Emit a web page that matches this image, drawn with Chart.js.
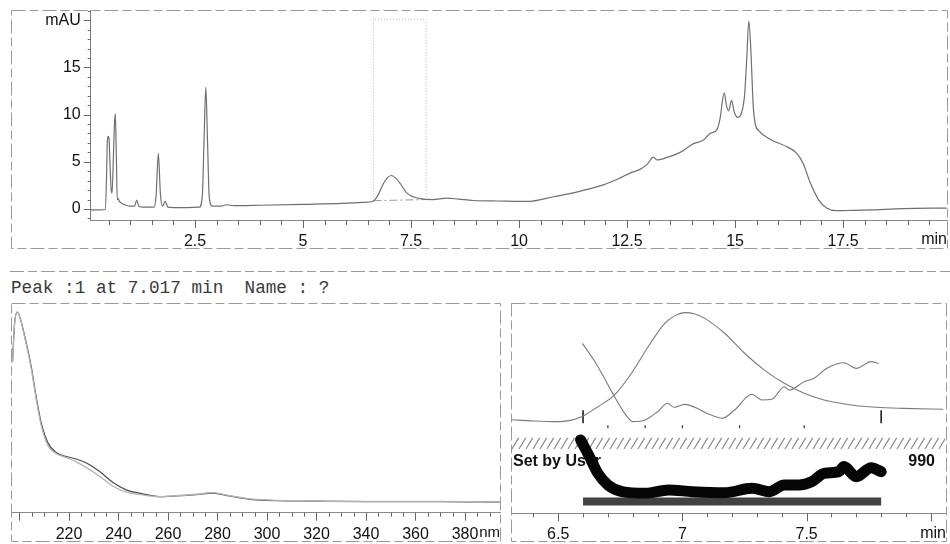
<!DOCTYPE html>
<html lang="en">
<head>
<meta charset="UTF-8">
<title>Peak 1 at 7.017 min</title>
<script src="https://cdn.jsdelivr.net/npm/chart.js"></script>
<style>
    body {
        margin: 0;
        background: #fff;
        width: 950px;
        height: 544px;
        position: relative;
        overflow: hidden;
    }
    .panel { position: absolute; }
    #peakTitle {
        position: absolute;
        left: 11px;
        top: 278px;
        font-family: 'Liberation Mono', 'DejaVu Sans Mono', monospace;
        font-size: 17.7px;
        color: #3a3a3a;
        white-space: pre;
    }
    #frames { position: absolute; left: 0; top: 0; pointer-events: none; }
</style>
</head>
<body>
<div class="panel" style="left:11px; top:10px; width:937px; height:239px;"><canvas id="chromChart"></canvas></div>
<div class="panel" style="left:11px; top:303px; width:490px; height:239px;"><canvas id="specChart"></canvas></div>
<div class="panel" style="left:511px; top:303px; width:436px; height:239px;"><canvas id="purityChart"></canvas></div>
<div id="peakTitle">Peak :1 at 7.017 min  Name : ?</div>
<svg id="frames" width="950" height="544">
    <g fill="none" stroke="#9a9a9a" stroke-width="1" stroke-dasharray="14 4 9 4">
        <rect x="11.5" y="10.5" width="936" height="238"/>
        <line x1="10" y1="271.5" x2="950" y2="271.5"/>
        <rect x="11.5" y="303.5" width="489" height="238"/>
        <rect x="511.5" y="303.5" width="435" height="238"/>
    </g>
</svg>

<script>
    // ---- chromatogram (top) ----
    const chromTime = [0.09, 0.3, 0.42, 0.45, 0.47, 0.49, 0.51, 0.53, 0.56, 0.58, 0.61, 0.635, 0.655, 0.675, 0.70, 0.72, 0.75, 0.8, 0.9, 1.0,
        1.1, 1.15, 1.2, 1.3, 1.45, 1.55, 1.6, 1.65, 1.7, 1.75, 1.81, 1.87, 2.0, 2.3, 2.6, 2.67, 2.71, 2.75, 2.79, 2.83,
        2.9, 3.1, 3.23, 3.4, 4.0, 5.0, 5.9, 6.4, 6.63, 6.75, 6.85, 6.95, 7.05, 7.15, 7.25, 7.4, 7.55, 7.71, 8.0, 8.33,
        8.6, 8.94, 9.5, 10.2, 10.8, 11.2, 11.6, 11.95, 12.3, 12.57, 12.8, 12.96, 13.11, 13.19, 13.45, 13.73, 14.03, 14.27, 14.42, 14.58,
        14.65, 14.75, 14.8, 14.85, 14.92, 14.98, 15.06, 15.15, 15.22, 15.27, 15.32, 15.37, 15.42, 15.47, 15.55, 15.81, 16.2, 16.43, 16.58, 16.74,
        16.93, 17.12, 17.35, 17.7, 18.13, 18.9, 19.9];
    const chromMAU = [-0.1, -0.1, -0.05, 3.0, 7.2, 7.7, 7.4, 5.0, 2.0, 1.7, 5.5, 9.0, 10.1, 6.5, 1.0, 1.1, 0.8, 0.6, 0.4, 0.3,
        0.3, 0.95, 0.3, 0.2, 0.2, 0.2, 1.5, 5.9, 1.5, 0.3, 0.8, 0.2, 0.15, 0.15, 0.2, 1.5, 7.5, 12.9, 7.0, 1.2,
        0.3, 0.3, 0.45, 0.35, 0.4, 0.5, 0.6, 0.7, 0.85, 1.6, 2.6, 3.3, 3.55, 3.25, 2.7, 1.7, 1.3, 1.1, 1.0, 1.15,
        1.05, 0.9, 0.85, 0.8, 1.3, 1.65, 2.1, 2.55, 3.2, 3.8, 4.2, 4.7, 5.5, 5.2, 5.5, 6.0, 6.9, 7.3, 8.0, 8.4,
        9.5, 12.3, 11.0, 10.4, 11.5, 10.3, 9.7, 10.2, 12.0, 15.8, 19.9, 16.5, 11.0, 9.0, 8.3, 7.4, 6.6, 5.9, 4.8, 2.8,
        1.0, 0.1, -0.18, -0.15, -0.1, 0.05, 0.1];
    const chromTicks = [2.5, 5, 7.5, 10, 12.5, 15, 17.5];
    const mauTicks = [0, 5, 10, 15, 20];
    // spectrum window around peak 1 (dotted box) and its baseline
    const windowTime = [6.63, 6.63, 7.85, 7.85];
    const windowMAU = [0.88, 20.1, 20.1, 1.0];
    const baseTime = [6.63, 7.85];
    const baseMAU = [0.88, 1.0];

    // ---- UV spectrum (bottom left) ----
    const specNm = [197.2, 198.0, 199.1, 200.2, 202.4, 204.7, 206.7, 208.8, 211.5, 214.8, 218.9, 222.9, 227, 232.4,
        237.8, 243.1, 248.5, 256.6, 263.3, 271.4, 278.1, 284.8, 292.9, 313.3, 340, 370, 394];
    const specApex = [72, 90, 95.7, 93.1, 82.7, 70, 55.6, 42.8, 33.3, 28.7, 26.8, 25.6, 23.7, 19.6,
        14.4, 10.9, 9.3, 7.7, 8.0, 8.6, 9.3, 8.0, 6.4, 5.6, 5.3, 5.3, 5.0];
    const specEdge = [72, 90, 95.5, 93.0, 82.0, 69.0, 54.5, 41.5, 32.0, 28.2, 26.3, 24.2, 21.5, 17.4,
        12.6, 9.8, 8.7, 7.6, 8.1, 8.8, 9.6, 8.1, 6.6, 5.7, 5.4, 5.4, 5.1];
    const nmTicks = [220, 240, 260, 280, 300, 320, 340, 360, 380];

    // ---- peak purity (bottom right) ----
    const sigTime = [6.312, 6.325, 6.40, 6.486, 6.55, 6.594, 6.66, 6.727, 6.795, 6.862, 6.929, 6.97, 7.01, 7.05, 7.09,
        7.17, 7.25, 7.33, 7.41, 7.49, 7.57, 7.68, 7.78, 7.89, 8.05];
    const sigVal = [44.5, 44.4, 43.9, 43.6, 44.2, 45.9, 50.7, 56.3, 66.6, 79.2, 90.3, 94.0, 95.4, 94.8, 92.7,
        85.6, 76.1, 68.1, 61.8, 57.1, 53.9, 51.5, 50.4, 49.9, 49.5];
    const ratioTime = [6.597, 6.648, 6.69, 6.727, 6.768, 6.80, 6.85, 6.90, 6.94, 6.967, 7.01, 7.05, 7.10, 7.16, 7.21,
        7.28, 7.32, 7.36, 7.41, 7.43, 7.49, 7.53, 7.58, 7.65, 7.70, 7.76, 7.79];
    const ratioVal = [80.8, 72.1, 63.4, 55.4, 47.5, 43.6, 44.4, 48.3, 52.3, 50.4, 51.8, 50.4, 47.5, 45.2, 49.1,
        56.6, 53.9, 54.2, 60.2, 58.6, 62.6, 64.2, 68.9, 71.6, 68.9, 72.1, 71.3];
    const simTime = [6.59, 6.626, 6.66, 6.70, 6.757, 6.85, 6.945, 7.04, 7.17, 7.28, 7.35, 7.41, 7.47, 7.52, 7.57,
        7.63, 7.65, 7.70, 7.76, 7.80];
    const simVal = [34.9, 26.9, 19.0, 13.5, 10.3, 9.5, 11.1, 10.3, 9.8, 11.9, 10.3, 13.5, 13.5, 15.0, 19.0,
        19.8, 22.2, 17.4, 21.7, 19.8];
    const thresholdTime = [6.6, 7.8];
    const thresholdVal = [5.6, 5.6];
    const boundTimes = [6.6, 7.8];
    const boundLevel = 45.9;
    const markTimes = [6.70, 6.85, 7.0, 7.23, 7.49];
    const markLevel = 41.2;
    const hatchBand = [30.6, 36.0];
    const setByLevel = 24.5;
    const thresholdText = '990';
    const purityTicks = [6.5, 7, 7.5];

    const pts = (xs, ys) => xs.map((x, i) => ({ x: x, y: ys[i] }));
    const fontFamily = "'Liberation Sans Narrow', 'Arial Narrow', 'Liberation Sans', sans-serif";
    const tickFont = { family: fontFamily, size: 16 };

    // fixed axis sizes so the plot areas line up with the printout frames
    function fixAxis(size) {
        return s => {
            if (s.isHorizontal()) s.height = size; else s.width = size;
            s.paddingLeft = s.paddingRight = s.paddingTop = s.paddingBottom = 0;
        };
    }
    function useTicks(list) {
        return s => { s.ticks = list.map(v => ({ value: v })); };
    }

    // minor / major tick marks along the axes, plus the unit label
    const tickMarks = {
        id: 'tickMarks',
        afterDraw(chart, args, opts) {
            const ctx = chart.ctx;
            ctx.save();
            ctx.strokeStyle = '#666';
            ctx.lineWidth = 1;
            ctx.beginPath();
            ['x', 'y'].forEach(axis => {
                const o = opts[axis];
                if (!o) return;
                const s = chart.scales[axis];
                const i0 = Math.ceil(s.min / o.minor - 1e-6), i1 = Math.floor(s.max / o.minor + 1e-6);
                for (let i = i0; i <= i1; i++) {
                    const v = i * o.minor;
                    const r = v / o.major;
                    const len = Math.abs(r - Math.round(r)) < 1e-6 ? o.majorLen : o.minorLen;
                    const p = Math.round(s.getPixelForValue(v)) + 0.5;
                    if (axis === 'x') { ctx.moveTo(p, s.top); ctx.lineTo(p, s.top + len); }
                    else { ctx.moveTo(s.right, p); ctx.lineTo(s.right - len, p); }
                }
            });
            ctx.stroke();
            if (opts.unit) {
                const s = chart.scales.x;
                ctx.fillStyle = '#111';
                ctx.font = (opts.unitSize || 16) + 'px ' + fontFamily;
                ctx.textAlign = 'right';
                ctx.textBaseline = 'top';
                ctx.fillText(opts.unit, s.right - 1, s.top + opts.unitGap);
            }
            ctx.restore();
        }
    };

    // hatched band and labels of the purity panel
    const purityDecor = {
        id: 'purityDecor',
        beforeDatasetsDraw(chart) {
            const { ctx, chartArea: a, scales: { y } } = chart;
            const y1 = y.getPixelForValue(hatchBand[1]), y2 = y.getPixelForValue(hatchBand[0]);
            ctx.save();
            ctx.beginPath();
            ctx.rect(a.left + 1, y1, a.right - a.left - 3, y2 - y1);
            ctx.clip();
            ctx.strokeStyle = '#8a8a8a';
            ctx.lineWidth = 1.2;
            ctx.beginPath();
            for (let x = a.left - 20; x < a.right + 20; x += 7) {
                ctx.moveTo(x, y2);
                ctx.lineTo(x + (y2 - y1) * 0.6, y1);
            }
            ctx.stroke();
            ctx.restore();

            ctx.save();
            ctx.fillStyle = '#111';
            ctx.font = 'bold 16px ' + fontFamily;
            ctx.textBaseline = 'middle';
            const ty = y.getPixelForValue(setByLevel);
            ctx.textAlign = 'left';
            ctx.fillText('Set by User', a.left + 2, ty);
            ctx.textAlign = 'right';
            ctx.fillText(thresholdText, a.right - 12, ty);
            ctx.restore();
        }
    };

    Chart.defaults.font.family = fontFamily;
    Chart.defaults.color = '#111';

    const baseOptions = () => ({
        responsive: true,
        maintainAspectRatio: false,
        animation: false,
        events: [],
        elements: { point: { radius: 0 } },
        layout: { padding: 0, autoPadding: false }
    });

    // top: chromatogram
    new Chart(document.getElementById('chromChart'), {
        type: 'line',
        data: {
            datasets: [
                { data: pts(chromTime, chromMAU), borderColor: '#6f6f6f', borderWidth: 1.2, cubicInterpolationMode: 'monotone' },
                { data: pts(windowTime, windowMAU), borderColor: '#b8b8b8', borderWidth: 1, borderDash: [1, 2] },
                { data: pts(baseTime, baseMAU), borderColor: '#9a9a9a', borderWidth: 1, borderDash: [8, 3, 2, 3] }
            ]
        },
        options: Object.assign(baseOptions(), {
            plugins: {
                legend: { display: false },
                tooltip: { enabled: false },
                tickMarks: {
                    x: { minor: 0.5, major: 2.5, minorLen: 5, majorLen: 8 },
                    y: { minor: 1, major: 5, minorLen: 3, majorLen: 7 },
                    unit: 'min', unitGap: 12
                }
            },
            scales: {
                x: {
                    type: 'linear', min: 0.085, max: 19.93,
                    afterBuildTicks: useTicks(chromTicks),
                    afterFit: fixAxis(29),
                    grid: { display: false, drawTicks: false },
                    border: { color: '#8a8a8a', dash: [14, 4, 9, 4] },
                    ticks: { font: tickFont, padding: 12, maxRotation: 0, autoSkip: false, callback: v => String(v) }
                },
                y: {
                    min: -1.165, max: 21.08,
                    afterBuildTicks: useTicks(mauTicks),
                    afterFit: fixAxis(79.7),
                    grid: { display: false, drawTicks: false },
                    border: { color: '#7a7a7a' },
                    ticks: { font: tickFont, padding: 10, callback: v => v === 20 ? 'mAU' : String(v) }
                }
            }
        }),
        plugins: [tickMarks]
    });

    // bottom left: UV spectrum of peak 1
    new Chart(document.getElementById('specChart'), {
        type: 'line',
        data: {
            datasets: [
                { data: pts(specNm, specEdge), borderColor: '#b4b4b4', borderWidth: 1.3, cubicInterpolationMode: 'monotone' },
                { data: pts(specNm, specApex), borderColor: '#4a4a4a', borderWidth: 1.2, cubicInterpolationMode: 'monotone' }
            ]
        },
        options: Object.assign(baseOptions(), {
            plugins: {
                legend: { display: false },
                tooltip: { enabled: false },
                tickMarks: {
                    x: { minor: 5, major: 20, minorLen: 4, majorLen: 8 },
                    unit: 'nm', unitGap: 13, unitSize: 15
                }
            },
            scales: {
                x: {
                    type: 'linear', min: 196.57, max: 394.55,
                    afterBuildTicks: useTicks(nmTicks),
                    afterFit: fixAxis(29.3),
                    grid: { display: false, drawTicks: false },
                    border: { color: '#8a8a8a', dash: [14, 4, 9, 4] },
                    ticks: { font: tickFont, padding: 12, maxRotation: 0, autoSkip: false, callback: v => String(v) }
                },
                y: { display: false, min: 0, max: 100 }
            }
        }),
        plugins: [tickMarks]
    });

    // bottom right: peak purity traces
    new Chart(document.getElementById('purityChart'), {
        type: 'line',
        data: {
            datasets: [
                { data: pts(sigTime, sigVal), borderColor: '#7a7a7a', borderWidth: 1.1, cubicInterpolationMode: 'monotone' },
                { data: pts(ratioTime, ratioVal), borderColor: '#7a7a7a', borderWidth: 1.1, cubicInterpolationMode: 'monotone' },
                { data: pts(thresholdTime, thresholdVal), borderColor: 'rgba(25,25,25,0.82)', borderWidth: 8 },
                { data: pts(simTime, simVal), borderColor: '#050505', borderWidth: 11, cubicInterpolationMode: 'monotone', borderCapStyle: 'round', borderJoinStyle: 'round' },
                {
                    data: boundTimes.map(t => ({ x: t, y: boundLevel })), showLine: false,
                    pointStyle: 'line', rotation: 90, pointRadius: 6.5, borderColor: '#111', borderWidth: 1.5
                },
                {
                    data: markTimes.map(t => ({ x: t, y: markLevel })), showLine: false,
                    pointStyle: 'line', rotation: 90, pointRadius: 1.5, borderColor: '#333', borderWidth: 1.2
                }
            ]
        },
        options: Object.assign(baseOptions(), {
            plugins: {
                legend: { display: false },
                tooltip: { enabled: false },
                tickMarks: {
                    x: { minor: 0.1, major: 0.5, minorLen: 4, majorLen: 8 },
                    unit: 'min', unitGap: 12
                }
            },
            scales: {
                x: {
                    type: 'linear', min: 6.31, max: 8.065,
                    afterBuildTicks: useTicks(purityTicks),
                    afterFit: fixAxis(28.7),
                    grid: { display: false, drawTicks: false },
                    border: { color: '#8a8a8a', dash: [14, 4, 9, 4] },
                    ticks: { font: tickFont, padding: 12, maxRotation: 0, autoSkip: false, callback: v => String(v) }
                },
                y: { display: false, min: 0, max: 100 }
            }
        }),
        plugins: [tickMarks, purityDecor]
    });
</script>
</body>
</html>
